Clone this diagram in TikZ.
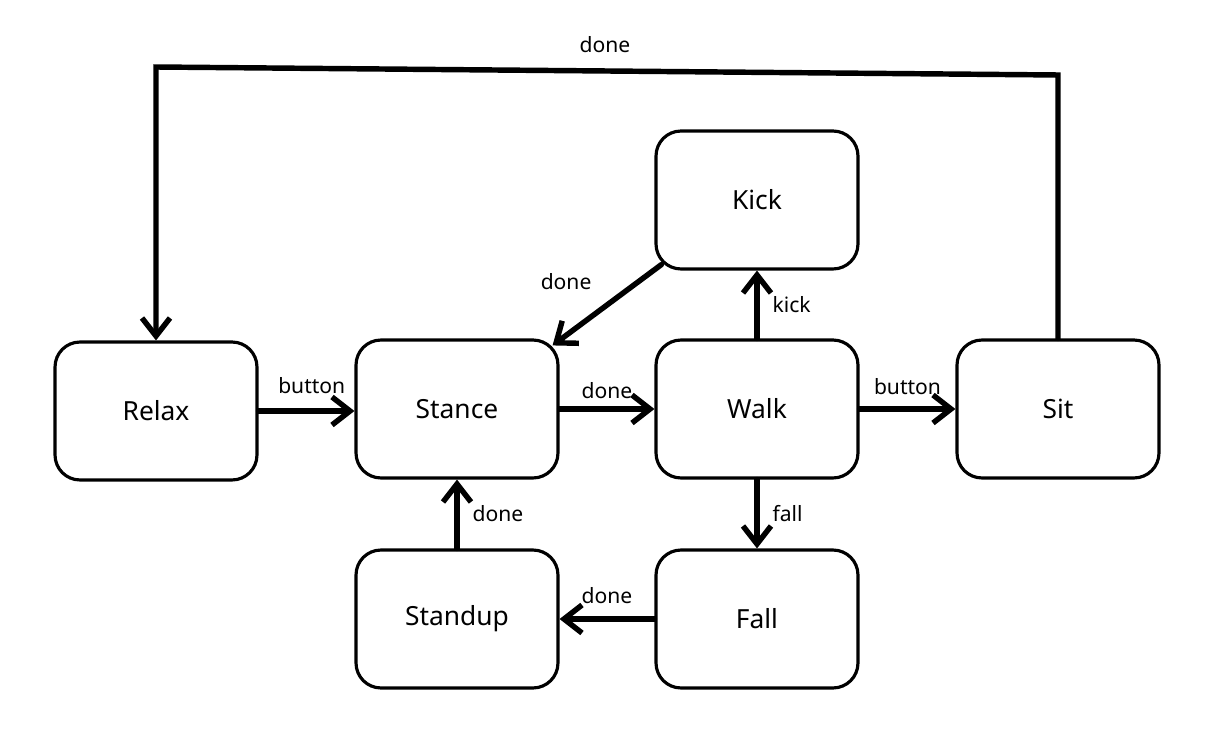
\documentclass[tikz,border=0pt]{standalone}
\usepackage{fontspec}
\setmainfont{Noto Sans}
\usetikzlibrary{arrows.meta,calc}
\begin{document}
\begin{tikzpicture}[x=0.02cm,y=-0.02cm,font=\fontsize{12}{14}\selectfont,line cap=round,line join=round,>={Straight Barb[length=0.36cm,width=0.56cm]},
	state/.style={draw,line width=1.8pt,rounded corners=0.5cm,minimum width=4.04cm,minimum height=2.76cm,font=\fontsize{15}{18}\selectfont},
	trans/.style={->,line width=3.1pt}]
			\useasboundingbox (0,0) rectangle (1214,729);
			\node[state] (Relax) at (156,411) {Relax};
			\node[state] (Stance) at (457,409) {Stance};
			\node[state] (Walk) at (757,409) {Walk};
			\node[state] (Sit) at (1058,409) {Sit};
			\node[state] (Kick) at (757,200) {Kick};
			\node[state] (Fall) at (757,619) {Fall};
			\node[state] (Standup) at (457,619) {Standup};
			\coordinate (topR) at (1058,75);
			\coordinate (topL) at (156,67);
			\draw[trans] (Relax.east) -- (Relax.east -| Stance.west) node[midway,above=5pt,xshift=3pt]{button};
			\draw[trans] (Stance.east) -- (Walk.west) node[midway,above=1pt]{done};
			\draw[trans] (Walk.east) -- (Sit.west) node[midway,above=3pt]{button};
			\draw[trans] (Walk.north) -- (Kick.south) node[midway,right=4pt]{kick};
			\draw[trans] (Walk.south) -- (Fall.north) node[midway,right=4pt]{fall};
			\draw[trans] (Fall.west) -- (Standup.east) node[midway,above=4pt]{done};
			\draw[trans] (Standup.north) -- (Stance.south) node[midway,right=4pt]{done};
			\draw[trans] ($(Kick.south west)+(7,-6)$) -- ($(Stance.north east)+(-7,7)$) node[midway,above left=4pt]{done};
			\draw[trans,line join=miter] (Sit.north) -- (topR) -- (topL) -- (Relax.north);
			\draw (605,45) node{done};
		\end{tikzpicture}
\end{document}
